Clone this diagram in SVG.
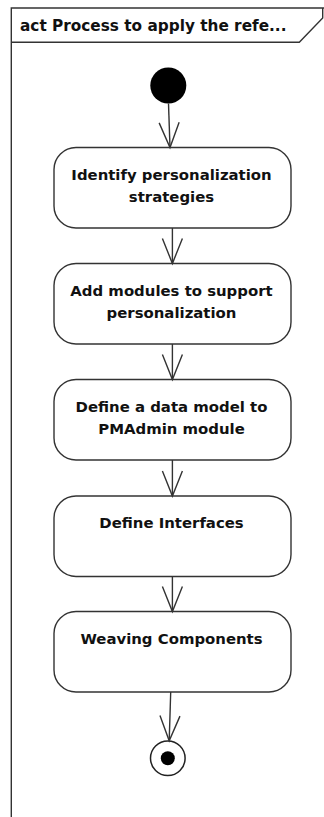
<svg xmlns="http://www.w3.org/2000/svg" width="324" height="817" viewBox="0 0 324 817">
<style>
.frame{fill:none;stroke:#333;stroke-width:1.4}
.act{fill:#fff;stroke:#333;stroke-width:1.4}
.lbl{font-family:"DejaVu Sans",sans-serif;font-weight:bold;font-size:14.9px;fill:#111;text-anchor:middle}
.hdr{font-family:"DejaVu Sans",sans-serif;font-weight:bold;font-size:15.3px;fill:#111}
.edge{fill:none;stroke:#333;stroke-width:1.4}
</style>
<defs>
<marker id="open" markerUnits="userSpaceOnUse" markerWidth="30" markerHeight="24" viewBox="-27 -12 30 24" refX="0" refY="0" orient="auto">
<path d="M-25,-10 L0,0 L-25,10" fill="none" stroke="#333" stroke-width="1.4"/>
</marker>
</defs>
<rect width="324" height="817" fill="#fff"/>
<g id="frame">
<path class="frame" d="M11.3,817 L11.3,8 L330,8"/>
<path class="frame" d="M11.3,42.3 L299.3,42.3 L322.7,18 L322.7,8"/>
<text class="hdr" x="20" y="31">act Process to apply the refe...</text>
</g>
<g id="start">
<circle cx="168.3" cy="85.5" r="18" fill="#000"/>
</g>
<g id="n1">
<rect class="act" x="54" y="147.5" width="237" height="80.5" rx="22" ry="22"/>
<text class="lbl" x="171.5" y="179.5">Identify personalization</text>
<text class="lbl" x="171.5" y="201.5">strategies</text>
</g>
<g id="n2">
<rect class="act" x="54" y="263.5" width="237" height="80.5" rx="22" ry="22"/>
<text class="lbl" x="171.5" y="295.7">Add modules to support</text>
<text class="lbl" x="171.5" y="317.7">personalization</text>
</g>
<g id="n3">
<rect class="act" x="54" y="379.5" width="237" height="80.5" rx="22" ry="22"/>
<text class="lbl" x="171.5" y="411.5">Define a data model to</text>
<text class="lbl" x="171.5" y="433.5">PMAdmin module</text>
</g>
<g id="n4">
<rect class="act" x="54" y="496" width="237" height="80.5" rx="22" ry="22"/>
<text class="lbl" x="171.5" y="528">Define Interfaces</text>
</g>
<g id="n5">
<rect class="act" x="54" y="611.5" width="237" height="80.5" rx="22" ry="22"/>
<text class="lbl" x="171.5" y="643.5">Weaving Components</text>
</g>
<g id="end">
<circle cx="167.8" cy="758.3" r="17.3" fill="#fff" stroke="#222" stroke-width="1.5"/>
<circle cx="167.8" cy="758.3" r="7" fill="#000"/>
</g>
<g id="connectors">
<path class="edge" d="M168.5,103.5 L170,147.5" marker-end="url(#open)"/>
<path class="edge" d="M172.4,228 L172.4,263.5" marker-end="url(#open)"/>
<path class="edge" d="M172.4,344 L172.4,379.5" marker-end="url(#open)"/>
<path class="edge" d="M172.4,460 L172.4,496" marker-end="url(#open)"/>
<path class="edge" d="M172.4,576.5 L172.4,611.5" marker-end="url(#open)"/>
<path class="edge" d="M170.7,692 L169.2,740.8" marker-end="url(#open)"/>
</g>
</svg>
